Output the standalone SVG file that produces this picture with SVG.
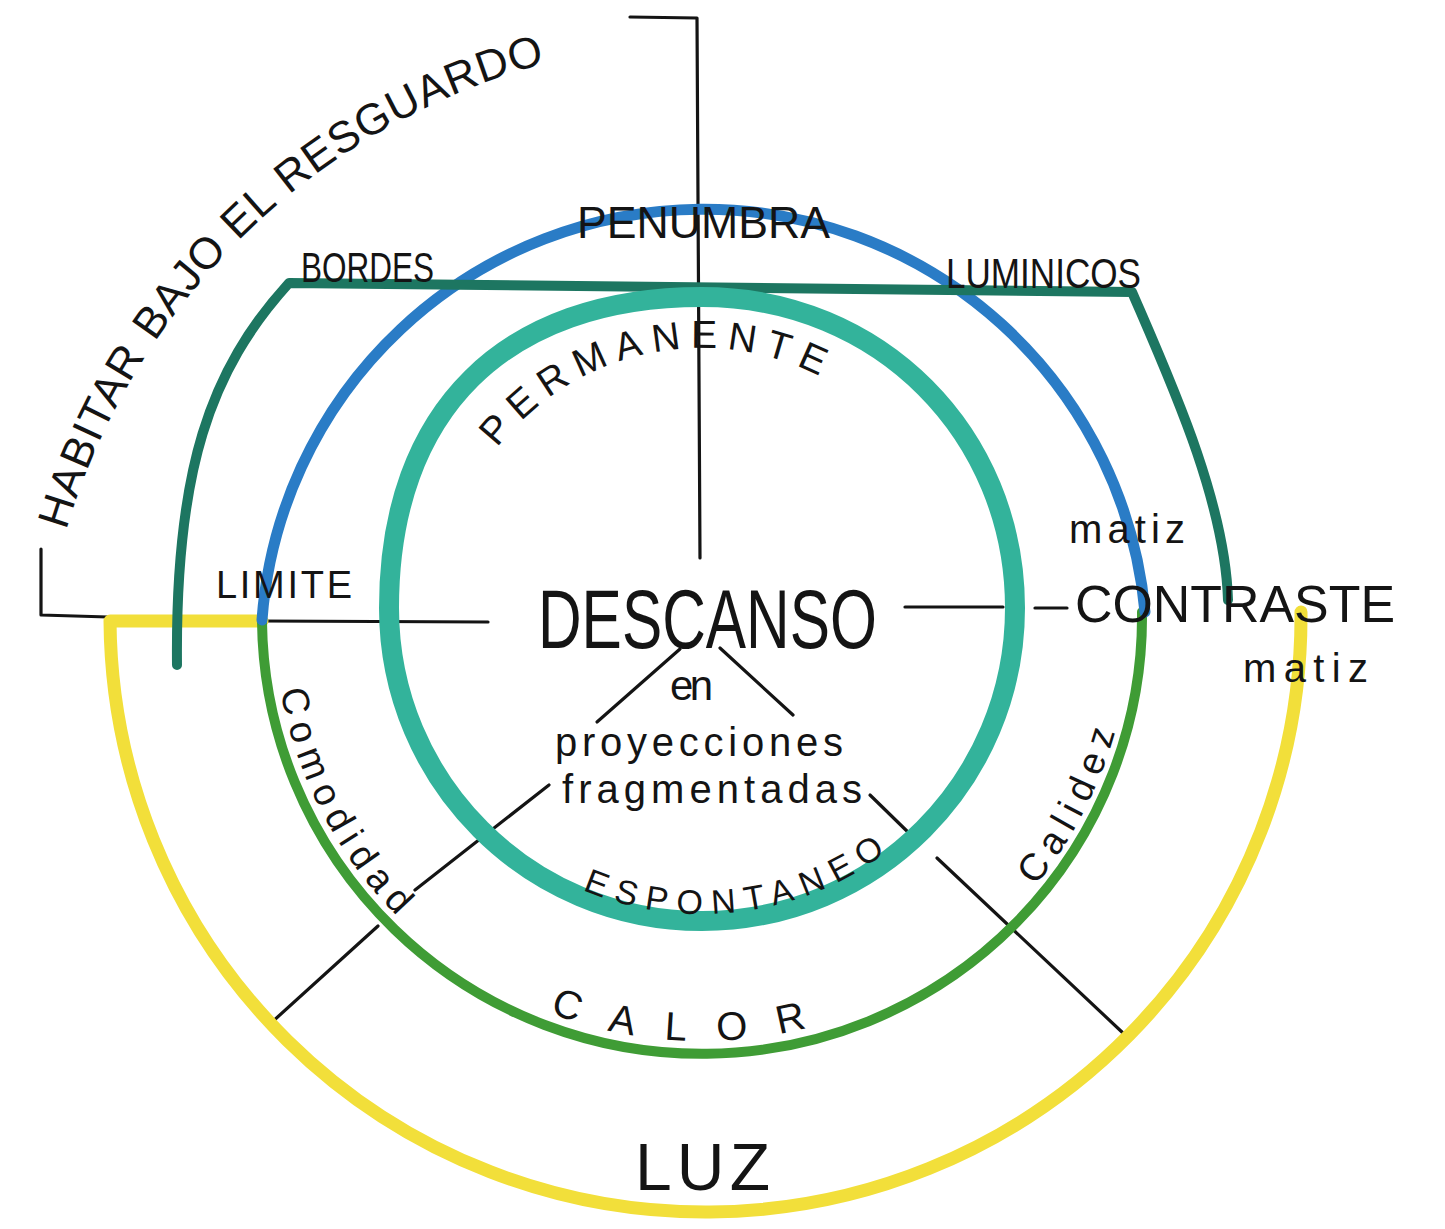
<svg xmlns="http://www.w3.org/2000/svg" width="1445" height="1229" viewBox="0 0 1445 1229">
<style>
  .ink{fill:none;stroke:#141414;stroke-width:3.2;stroke-linecap:round;stroke-linejoin:round}
  .ring{fill:none;stroke-linecap:round;stroke-linejoin:round}
  .teal{stroke:#33b39b;stroke-width:20}
  .blue{stroke:#2a7cc6;stroke-width:11}
  .dgreen{stroke:#1d7661;stroke-width:10}
  .green{stroke:#3f9c35;stroke-width:10}
  .yellow{stroke:#f2df3a;stroke-width:13}
  text{font-family:"Liberation Sans","DejaVu Sans",sans-serif;fill:#141414}
  .hab{font-size:44px;letter-spacing:0.8px}
</style>
<defs>
  <path id="pHab" d="M66.2,530.5 A685,685 0 0 1 557.3,60.3"/>
  <path id="pPerm" d="M497.1,447.9 A260,260 0 0 1 824.1,378.4"/>
  <path id="pEsp" d="M582.4,889.7 A306,306 0 0 0 898.7,842.4"/>
  <path id="pCalor" d="M549.7,1012.8 A425,425 0 0 0 826.3,1022.4"/>
  <path id="pComo" d="M280.5,690.3 A428,428 0 0 0 415.6,934"/>
  <path id="pCali" d="M1035.4,886 A429,429 0 0 0 1121.6,705.2"/>
</defs>
<rect width="1445" height="1229" fill="#ffffff"/>

<g id="connectors">
  <polyline class="ink" points="630,17 697,18 700,558"/>
  <polyline class="ink" points="41,549 41,615 108,617"/>
  <line class="ink" x1="262" y1="621" x2="488" y2="622"/>
  <line class="ink" x1="905" y1="607" x2="1003" y2="607"/>
  <line class="ink" x1="1035" y1="608" x2="1067" y2="608"/>
  <line class="ink" x1="680" y1="649" x2="597" y2="722"/>
  <line class="ink" x1="720" y1="648" x2="793" y2="715"/>
  <line class="ink" x1="549" y1="785" x2="415" y2="890"/>
  <line class="ink" x1="378" y1="926" x2="271" y2="1023"/>
  <line class="ink" x1="870" y1="795" x2="912" y2="836"/>
  <line class="ink" x1="937" y1="858" x2="1123" y2="1033"/>
</g>

<g id="luz-ring">
  <path class="ring yellow" d="M262,621 L110,621 A595,595 0 0 0 1301,612"/>
</g>
<g id="calor-ring">
  <path class="ring green" d="M262,622 A440,437 0 0 0 1142,612"/>
</g>
<g id="penumbra-ring">
  <path class="ring blue" d="M262,620 A443,443 0 0 1 1145,612"/>
</g>
<g id="habitar-frame">
  <path class="ring dgreen" d="M177,665 C175,470 210,370 289,283 L1132,292 C1170,380 1225,500 1228,600"/>
</g>
<g id="descanso-ring">
  <path class="ring teal" d="M389,608 C389,410 505,297 702,297 C880,297 1015,435 1015,608 C1015,781 875,921 702,921 C529,921 389,781 389,608 Z"/>
</g>

<g id="habitar">
  <text class="hab"><textPath href="#pHab" startOffset="0">HABITAR</textPath></text>
  <text class="hab"><textPath href="#pHab" startOffset="209">BAJO EL</textPath></text>
  <text class="hab"><textPath href="#pHab" startOffset="409">RESGUARDO</textPath></text>
</g>
<g id="penumbra">
  <text x="577" y="238" font-size="45" textLength="253" lengthAdjust="spacingAndGlyphs">PENUMBRA</text>
</g>
<g id="bordes">
  <text x="301" y="282" font-size="42" textLength="133" lengthAdjust="spacingAndGlyphs">BORDES</text>
</g>
<g id="luminicos">
  <text x="946" y="288" font-size="42" textLength="195" lengthAdjust="spacingAndGlyphs">LUMINICOS</text>
</g>
<g id="permanente">
  <text font-size="39"><textPath href="#pPerm" textLength="358" lengthAdjust="spacing">PERMANENTE</textPath></text>
</g>
<g id="limite">
  <text x="216" y="598" font-size="38" textLength="136" lengthAdjust="spacing">LIMITE</text>
</g>
<g id="descanso">
  <text x="538" y="648" font-size="84" textLength="339" lengthAdjust="spacingAndGlyphs">DESCANSO</text>
</g>
<g id="contraste">
  <text x="1075" y="622" font-size="52" textLength="320" lengthAdjust="spacingAndGlyphs">CONTRASTE</text>
</g>
<g id="matiz-1">
  <text x="1069" y="543" font-size="40" textLength="116" lengthAdjust="spacing">matiz</text>
</g>
<g id="matiz-2">
  <text x="1243" y="682" font-size="40" textLength="125" lengthAdjust="spacing">matiz</text>
</g>
<g id="en">
  <text x="670" y="700" font-size="42" textLength="43" lengthAdjust="spacing">en</text>
</g>
<g id="proyecciones">
  <text x="555" y="756" font-size="40" textLength="288" lengthAdjust="spacing">proyecciones</text>
  <text x="562" y="803" font-size="40" textLength="300" lengthAdjust="spacing">fragmentadas</text>
</g>
<g id="espontaneo">
  <text font-size="34"><textPath href="#pEsp" textLength="320" lengthAdjust="spacing">ESPONTANEO</textPath></text>
</g>
<g id="comodidad">
  <text font-size="38"><textPath href="#pComo" textLength="258" lengthAdjust="spacing">Comodidad</textPath></text>
</g>
<g id="calidez">
  <text font-size="38"><textPath href="#pCali" textLength="175" lengthAdjust="spacing">Calidez</textPath></text>
</g>
<g id="calor">
  <text font-size="40"><textPath href="#pCalor" textLength="262" lengthAdjust="spacing">CALOR</textPath></text>
</g>
<g id="luz">
  <text x="635" y="1190" font-size="66" textLength="135" lengthAdjust="spacing">LUZ</text>
</g>
</svg>
